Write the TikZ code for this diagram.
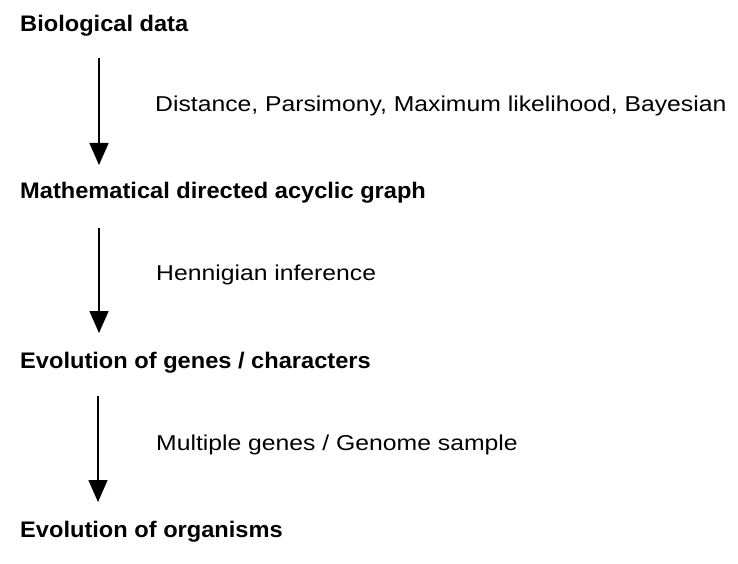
\documentclass[tikz,border=0pt]{standalone}
\usepackage{fontspec}
\setmainfont{Liberation Sans}
\newfontfamily\stagefont{Liberation Sans}[FakeStretch=1.05]
\newfontfamily\methodfont{Liberation Sans}[FakeStretch=1.15]
\usepackage{tikz}
\usetikzlibrary{arrows.meta}
\tikzset{
  ar/.style={-{Triangle[length=22pt,width=19pt]},line width=1.6pt,black},
  stage/.style={anchor=base west,inner sep=0pt,font=\stagefont\fontsize{22.5}{26}\selectfont\bfseries},
  method/.style={anchor=base west,inner sep=0pt,font=\methodfont\fontsize{21.5}{26}\selectfont}
}
\begin{document}
\begin{tikzpicture}[x=1pt,y=-1pt]
\useasboundingbox (0,0) rectangle (738,564);
\node[stage] (bio) at (20,32) {Biological data};
\node[stage] (mdag) at (20,198) {Mathematical directed acyclic graph};
\node[stage] (genes) at (20,368) {Evolution of genes / characters};
\node[stage] (orgs) at (20,537) {Evolution of organisms};
\node[method] (dist) at (155,112) {Distance, Parsimony, Maximum likelihood, Bayesian};
\node[method] (henn) at (156,280) {Hennigian inference};
\node[method] (multi) at (156,450) {Multiple genes / Genome sample};
\coordinate (s1) at (99,58);  \coordinate (e1) at (99,165);
\coordinate (s2) at (99,228); \coordinate (e2) at (99,333);
\coordinate (s3) at (98,396); \coordinate (e3) at (98,502);
\draw[ar] (s1) -- (e1);
\draw[ar] (s2) -- (e2);
\draw[ar] (s3) -- (e3);
\end{tikzpicture}
\end{document}
